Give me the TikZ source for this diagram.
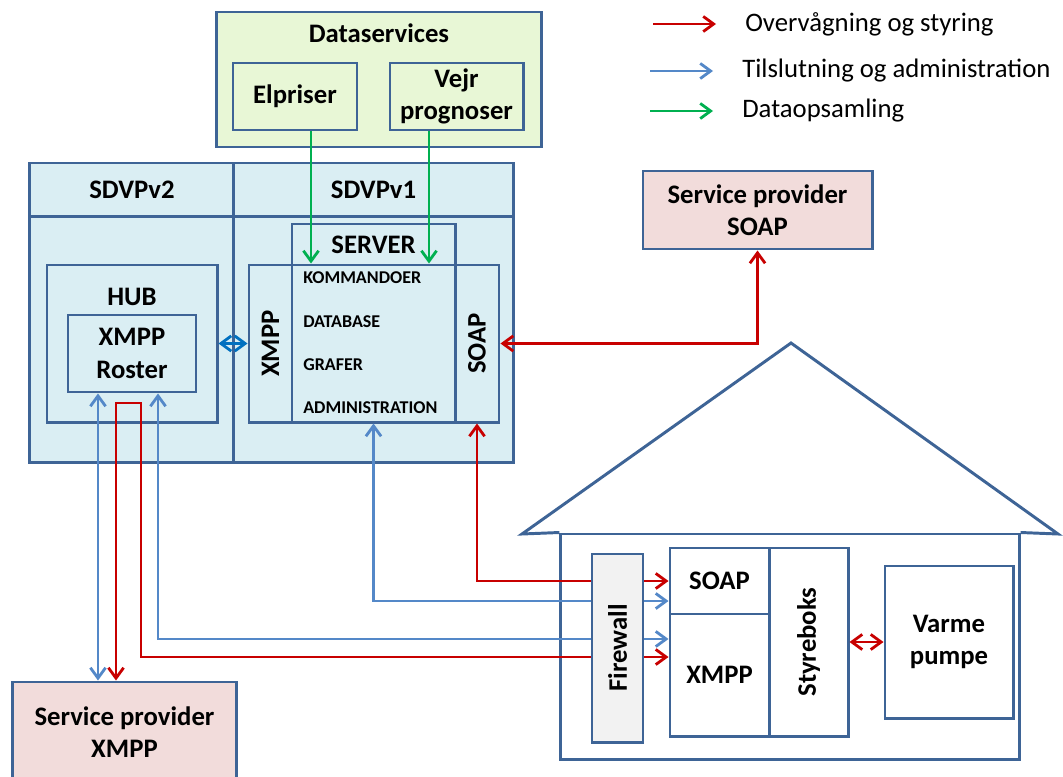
\documentclass[tikz,border=0pt]{standalone}
\usepackage{fontspec}
\setmainfont{Carlito}
\usepackage{xcolor}
\usetikzlibrary{arrows.meta}

\definecolor{linec}{RGB}{62,100,150}
\definecolor{skyfill}{RGB}{218,238,243}
\definecolor{leaffill}{RGB}{232,247,214}
\definecolor{rosefill}{RGB}{242,220,219}
\definecolor{wallfill}{RGB}{242,242,242}
\definecolor{ctrlred}{RGB}{200,0,0}
\definecolor{admblue}{RGB}{84,136,200}
\definecolor{hubblue}{RGB}{0,112,192}
\definecolor{datagreen}{RGB}{0,176,80}

\begin{document}
\begin{tikzpicture}[x=0.025cm, y=-0.025cm,
  >={Straight Barb[length=2.6mm,width=3.8mm]},
  font=\bfseries\fontsize{19}{23}\selectfont,
  box/.style={draw=linec, line width=2.1pt, inner sep=0pt, align=center},
  rot/.style={rotate=90},
  item/.style={anchor=west, inner sep=0pt, font=\bfseries\fontsize{12.8}{14}\selectfont},
  legtxt/.style={anchor=west, inner sep=0pt, font=\mdseries\fontsize{19}{23}\selectfont},
  redarr/.style={ctrlred, line width=2pt},
  bluearr/.style={admblue, line width=2pt},
  greenarr/.style={datagreen, line width=2pt},
  ]
  \useasboundingbox (0,0) rectangle (1063,776);

  % Dataservices
  \node[box, fill=leaffill, minimum width=8.1cm, minimum height=3.375cm] (dataserv) at (379,79.5) {};
  \node (tdata) at (379,33) {Dataservices};
  \node[box, minimum width=3.1cm, minimum height=1.675cm] (elpris) at (295,96.5) {Elpriser};
  \node[box, minimum width=3.325cm, minimum height=1.675cm] (vejr) at (456.5,96.5) {Vejr\\prognoser};

  % SDVP
  \node[box, fill=skyfill, minimum width=5.1cm, minimum height=1.35cm] (sdvp2h) at (132,190) {SDVPv2};
  \node[box, fill=skyfill, minimum width=6.975cm, minimum height=1.35cm] (sdvp1h) at (373.5,190) {SDVPv1};
  \node[box, fill=skyfill, minimum width=5.1cm, minimum height=6.125cm] (sdvp2) at (132,339.5) {};
  \node[box, fill=skyfill, minimum width=6.975cm, minimum height=6.125cm] (sdvp1) at (373.5,339.5) {};

  \node[box, minimum width=4.25cm, minimum height=3.925cm] (hub) at (132,343.5) {};
  \node (thub) at (132,297) {HUB};
  \node[box, minimum width=3.2cm, minimum height=1.925cm] (roster) at (132,353.5) {XMPP\\Roster};

  \node[box, minimum width=4.075cm, minimum height=1.025cm] (srvhead) at (373.5,244.5) {SERVER};
  \node[box, minimum width=1.075cm, minimum height=3.925cm, label={[rot]center:XMPP}] (srvxmpp) at (270.5,343.5) {};
  \node[box, minimum width=4.075cm, minimum height=3.925cm] (srvmid) at (373.5,343.5) {};
  \node[box, minimum width=1.1cm, minimum height=3.925cm, label={[rot]center:SOAP}] (srvsoap) at (477,343.5) {};
  \node[item] (tkom) at (303,278) {KOMMANDOER};
  \node[item] (tdb) at (303,322) {DATABASE};
  \node[item] (tgraf) at (303,365) {GRAFER};
  \node[item] (tadm) at (303,408) {ADMINISTRATION};

  % Service providers
  \node[box, fill=rosefill, minimum width=5.725cm, minimum height=1.95cm] (spsoap) at (757.5,210) {Service provider\\SOAP};
  \node[box, fill=rosefill, minimum width=5.575cm, minimum height=2.5cm] (spxmpp) at (124.5,732) {Service provider\\XMPP};

  % House
  \node[box, minimum width=11.45cm, minimum height=5.625cm] (house) at (790,646.5) {};
  \draw[linec, line width=2.1pt] (house.north west) -- (522,534) -- (791,343) -- (1058,534) -- (house.north east);
  \node[box, minimum width=2.475cm, minimum height=1.65cm] (hsoap) at (719.5,581) {SOAP};
  \node[box, minimum width=2.475cm, minimum height=3.05cm] (hxmpp) at (719.5,675) {XMPP};
  \node[box, minimum width=1.975cm, minimum height=4.7cm, label={[rot]center:Styreboks}] (styre) at (808.5,642) {};
  \node[box, minimum width=3.2cm, minimum height=3.8cm] (varme) at (949,642) {Varme\\pumpe};

  % Arrows
  \draw[greenarr, ->] ([xshift=0.4cm]elpris.south) -- ([xshift=0.4cm]elpris.south |- srvmid.north);
  \draw[greenarr, ->] ([xshift=-0.6875cm]vejr.south) -- ([xshift=-0.6875cm]vejr.south |- srvmid.north);
  \draw[hubblue, line width=2pt, <->] (hub.east) -- (srvxmpp.west);
  \draw[redarr, <->] (spsoap.south) |- (srvsoap.east);
  \draw[redarr, <->] (srvsoap.south) |- (hsoap.west);
  \draw[bluearr, <->] (srvmid.south) |- ([yshift=-0.5cm]hsoap.west);
  \draw[bluearr, <->] ([xshift=0.65cm]roster.south) |- ([yshift=0.9cm]hxmpp.west);
  \draw[bluearr, <->] ([xshift=-0.85cm]roster.south) -- ([xshift=-0.85cm]roster.south |- spxmpp.north);
  \coordinate (rbend) at (141,403);
  \draw[redarr, <->] ([yshift=0.45cm]hxmpp.west) -| (rbend) -| ([xshift=-0.2125cm]spxmpp.north);
  \draw[redarr, <->] (styre.east) -- (varme.west);

  \node[box, fill=wallfill, minimum width=1.275cm, minimum height=4.7cm, label={[rot]center:Firewall}] (firewall) at (617.5,648) {};

  % Legend
  \coordinate (l1a) at (653,24); \coordinate (l1b) at (716,24);
  \coordinate (l2a) at (650,71); \coordinate (l2b) at (713,71);
  \coordinate (l3a) at (650,111); \coordinate (l3b) at (713,111);
  \draw[redarr, ->] (l1a) -- (l1b);
  \draw[bluearr, ->] (l2a) -- (l2b);
  \draw[greenarr, ->] (l3a) -- (l3b);
  \node[legtxt] (leg1) at (745,24) {Overvågning og styring};
  \node[legtxt] (leg2) at (742,71) {Tilslutning og administration};
  \node[legtxt] (leg3) at (742,111) {Dataopsamling};
\end{tikzpicture}
\end{document}
